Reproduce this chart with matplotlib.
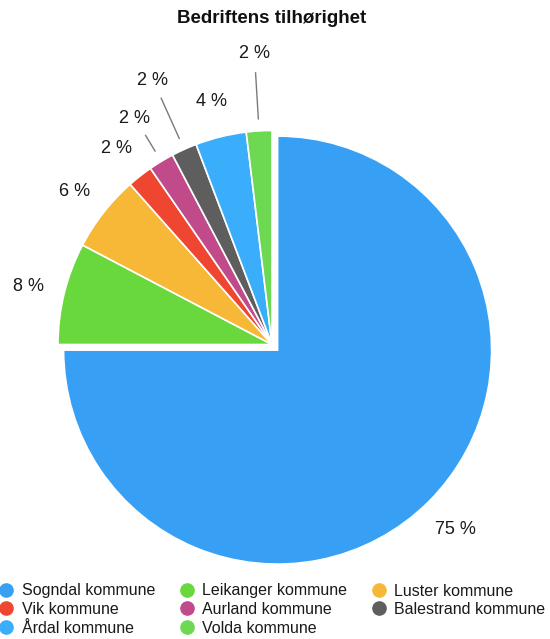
import numpy as np
import matplotlib
matplotlib.use("Agg")
import matplotlib.pyplot as plt
from matplotlib.lines import Line2D

plt.rcParams['font.family'] = ['Liberation Sans', 'DejaVu Sans']

categories = ["Sogndal kommune", "Leikanger kommune", "Luster kommune", "Vik kommune",
              "Aurland kommune", "Balestrand kommune", "Årdal kommune", "Volda kommune"]
# counts (52 firms) that give the shown percentages 75, 8, 6, 2, 2, 2, 4, 2 %
values = [39, 4, 3, 1, 1, 1, 2, 1]
colors = ["#37a0f5", "#68d83c", "#f6b836", "#ee4630", "#c04a8a", "#5e5e5e", "#3aaefb", "#6dd851"]

# styling
explode = [0.037, 0, 0, 0, 0, 0, 0, 0]
label_r = [1.175, 1.17, 1.17, 1.175, 1.24, 1.36, 1.175, 1.37]
leader = [False, False, False, False, True, True, False, True]

W, H = 550, 639
fig = plt.figure(figsize=(W / 100, H / 100), dpi=100)
ax = fig.add_axes([0, 0, 1, 1])
R = 214.0
cx, cy = 272.0, 344.5

wedges, _ = ax.pie(values, colors=colors, startangle=90, counterclock=False,
                   explode=explode, radius=1.0, center=(0, 0), frame=True,
                   wedgeprops=dict(edgecolor="white", linewidth=1.2))
ax.set_xlim(-cx / R, (W - cx) / R)
ax.set_ylim(-(H - cy) / R, cy / R)
ax.set_aspect("auto")
ax.axis("off")

total = sum(values)
for w, v, r, ld, ex in zip(wedges, values, label_r, leader, explode):
    ang = np.deg2rad((w.theta1 + w.theta2) / 2)
    dx, dy = np.cos(ang), np.sin(ang)
    ox, oy = ex * dx, ex * dy
    lab = f"{round(100 * v / total)} %"
    ax.text(ox + r * dx, oy + r * dy - 1.5 / R, lab, ha="center", va="center",
            fontsize=13, color="#1a1a1a")
    if ld:
        ax.plot([ox + 1.053 * dx, ox + (r - 0.095) * dx],
                [oy + 1.053 * dy, oy + (r - 0.095) * dy],
                color="#7a7a7a", lw=1.0, solid_capstyle="butt")

fig.text(272 / W, 1 - 18.5 / H, "Bedriftens tilhørighet", ha="center", va="center",
         fontsize=13.5, fontweight="bold", color="#111111")

order = [0, 3, 6, 1, 4, 7, 2, 5]
handles = [Line2D([], [], marker="o", linestyle="none", markersize=9.5,
                  markerfacecolor=colors[i], markeredgecolor=colors[i]) for i in order]
leg = fig.legend(handles, [categories[i] for i in order], ncol=3,
                 loc="upper left", bbox_to_anchor=(-1.5 / W, 1 - 583.5 / H),
                 frameon=False, fontsize=11.5, borderpad=0, borderaxespad=0,
                 handlelength=1.0, handletextpad=0.45, columnspacing=1.5,
                 labelspacing=0.22)
for t in leg.get_texts():
    t.set_color("#1a1a1a")

fig.savefig("out.png", dpi=100)
